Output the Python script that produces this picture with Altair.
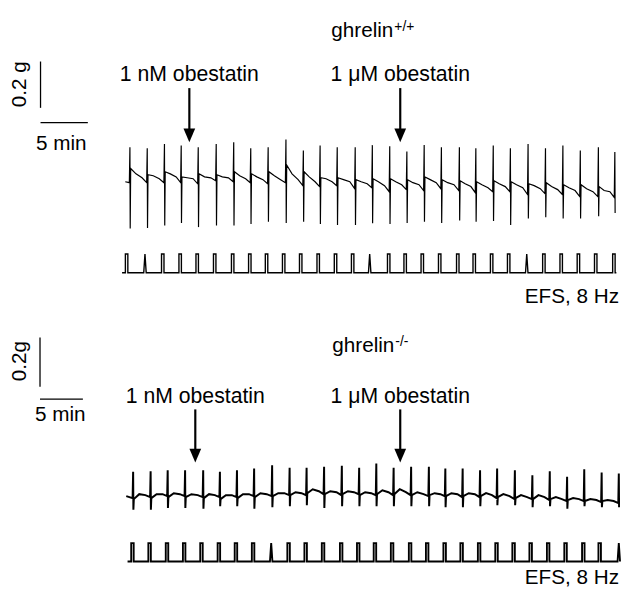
import altair as alt
import pandas as pd

FONT = "Liberation Sans"

# ---------------- ghrelin +/+ (top recording) ----------------
TOP_TITLE = "ghrelin"
TOP_SUP = "+/+"
TOP_SCALE_LABEL = "0.2 g"
# spike times (min) and tension (mg, relative to start baseline)
TOP_SPIKE_T = [0.49, 2.32, 4.14, 5.91, 7.71, 9.61, 11.46, 13.26, 15.10, 16.98,
               18.82, 20.59, 22.40, 24.30, 26.11, 27.95, 29.76, 31.59, 33.41, 35.31,
               37.05, 38.89, 40.70, 42.57, 44.41, 46.25, 48.09, 50.00, 51.74]
TOP_PEAK = [149, 145, 163, 156, 149, 163, 170, 145, 149, 182,
            135, 156, 149, 149, 158, 153, 131, 159, 149, 149,
            145, 156, 145, 163, 145, 156, 135, 149, 128]
TOP_TROUGH = [-202, -200, -189, -178, -196, -189, -189, -182, -173, -178,
              -173, -182, -187, -187, -179, -182, -178, -173, -178, -167,
              -173, -170, -187, -159, -153, -159, -159, -149, -135]
TOP_POST = [57, 30, 43, 21, 34, 30, 43, 34, 43, 72, 43, 17, 17, 9, 13, 13, 9, 21, 9, 4,
            0, 4, 0, -9, -4, -13, -13, -21]
TOP_MID1 = [34, 26, 34, 17, 21, 21, 26, 21, 26, 34, 21, 13, 9, 0, 0, 0, -4, 9, -4, -9,
            -13, -9, -13, -17, -21, -26, -30, -38]
TOP_MID2 = [17, 13, 21, 13, 17, 17, 13, 9, 9, 9, 0, 0, 0, -9, -17, -13, -13, -4, -13, -21,
            -26, -21, -26, -30, -34, -38, -43, -43]
TOP_PRE = [-4, -4, -4, -4, -9, 4, 0, -4, -9, -4, -17, -21, -17, -30, -26, -43, -34, -38,
           -30, -38, -47, -43, -43, -55, -51, -55, -64, -64, -68]
TOP_STIM_T = [0.14, 2.08, 3.96, 5.80, 7.60, 9.45, 11.35, 13.16, 14.93, 16.74,
              18.54, 20.39, 22.22, 24.03, 25.83, 27.84, 29.58, 31.39, 33.23, 35.14,
              36.88, 38.72, 40.52, 42.43, 44.24, 46.07, 47.89, 49.72, 51.64]
TOP_STIM_TRI = [1, 14, 23]
TOP_DRUG_T = [6.77, 29.06]
DRUG_LABELS = ["1 nM obestatin", "1 \u03bcM obestatin"]

# ---------------- ghrelin -/- (bottom recording) ----------------
BOT_TITLE = "ghrelin"
BOT_SUP = "-/-"
BOT_SCALE_LABEL = "0.2g"
BOT_SPIKE_T = [0.80, 2.84, 4.83, 6.86, 8.97, 10.92, 12.91, 14.91, 17.01, 19.05,
               21.03, 23.07, 25.14, 27.16, 29.16, 31.18, 33.22, 35.29, 37.21, 39.23,
               41.26, 43.25, 45.32, 47.36, 49.39, 51.41, 53.41, 55.44, 57.44]
BOT_PEAK = [99, 101, 105, 105, 105, 99, 105, 112, 125, 115,
            115, 119, 123, 115, 132, 115, 119, 119, 112, 112,
            105, 112, 105, 85, 101, 79, 109, 96, 92]
BOT_TROUGH = [-55, -55, -48, -48, -51, -41, -41, -51, -45, -41,
              -37, -48, -41, -41, -41, -41, -41, -41, -45, -45,
              -41, -37, -37, -45, -41, -51, -41, -45, -45]
BOT_POST = [-12, -8, -4, -4, -8, -12, -8, -4, 0, 4, 12, 8, 8, 4, 8, 8, 4, 4, 0, 0,
            0, -4, -8, -12, -12, -16, -20, -20]
BOT_MID1 = [8, 8, 12, 8, 8, 4, 8, 12, 12, 16, 28, 20, 20, 16, 24, 28, 16, 12, 12, 12,
            12, 8, 4, 4, -4, -8, -12, -16]
BOT_MID2 = [4, 8, 8, 4, 4, 4, 8, 8, 12, 12, 20, 16, 16, 12, 16, 16, 8, 8, 8, 8,
            4, 0, -4, -4, -12, -12, -16, -20]
BOT_PRE = [-8, -4, 0, 0, -4, -4, -4, 0, 0, 4, 4, 8, 4, 8, 4, 4, 4, 0, 0, -4, -4,
           -8, -12, -12, -16, -20, -20, -24, -28]
BOT_STIM_T = [0.72, 2.72, 4.75, 6.75, 8.77, 10.80, 12.79, 14.79, 16.90, 18.93,
              20.92, 22.95, 25.06, 27.05, 29.00, 31.00, 33.10, 35.09, 37.13, 39.11,
              41.15, 43.18, 45.17, 47.16, 49.20, 51.23, 53.30, 55.21, 57.44]
BOT_STIM_TRI = [8, 28]
BOT_DRUG_T = [8.05, 31.95]

EFS_LABEL = "EFS, 8 Hz"
TIME_BAR_MIN = 5
FORCE_BAR_MG = 200
TIME_BAR_LABEL = "5 min"

ARROW_PATH = "M -0.85 -1 L 0.85 -1 L 0 1 Z"


def trace_df(spike_t, peak, trough, post, mid1, mid2, pre):
    rows = [(0.0, 0)]
    n = len(spike_t)
    for i in range(n):
        t = spike_t[i]
        rows.append((t - 0.06, pre[i]))
        rows.append((t, peak[i]))
        rows.append((t + 0.03, trough[i]))
        if i < n - 1:
            dt = spike_t[i + 1] - t
            rows.append((t + 0.08, post[i]))
            rows.append((t + 0.35 * dt, mid1[i]))
            rows.append((t + 0.7 * dt, mid2[i]))
    return pd.DataFrame({"t": [r[0] for r in rows], "mg": [r[1] for r in rows],
                         "k": list(range(len(rows)))})


def stim_df(stim_t, tri, w, t0, t1):
    rows = [(t0, 0)]
    for i, t in enumerate(stim_t):
        if i in tri:
            rows += [(t - w / 2, 0), (t, 1), (t + w / 2, 0)]
        else:
            rows += [(t - w / 2, 0), (t - w / 2, 1), (t + w / 2, 1), (t + w / 2, 0)]
    if t1 > rows[-1][0]:
        rows.append((t1, 0))
    return pd.DataFrame({"t": [r[0] for r in rows], "v": [r[1] for r in rows],
                         "k": list(range(len(rows)))})


def panel(c):
    xs = alt.Scale(domain=c["xdom"], nice=False, zero=False)
    ys = alt.Scale(domain=c["ydom"], nice=False, zero=False)
    ss = alt.Scale(domain=c["sdom"], nice=False, zero=False)
    X = lambda f: alt.X(f, scale=xs, axis=None)
    Y = lambda f: alt.Y(f, scale=ys, axis=None)

    trace = alt.Chart(c["trace"]).mark_line(color="black", strokeWidth=c["tw"]).encode(
        x=X("t:Q"), y=Y("mg:Q"), order="k:Q")
    stim = alt.Chart(c["stim"]).mark_line(color="black", strokeWidth=c["sw"]).encode(
        x=X("t:Q"), y=alt.Y("v:Q", scale=ss, axis=None), order="k:Q")

    bx, by = c["bar_anchor"]
    vbar = alt.Chart(pd.DataFrame({"t": [bx], "a": [by], "b": [by - FORCE_BAR_MG]})).mark_rule(
        color="black", strokeWidth=1.3).encode(x=X("t:Q"), y=Y("a:Q"), y2="b:Q")
    hx, hy = c["hbar_anchor"]
    hbar = alt.Chart(pd.DataFrame({"a": [hx], "b": [hx + TIME_BAR_MIN], "m": [hy]})).mark_rule(
        color="black", strokeWidth=1.3).encode(x=X("a:Q"), x2="b:Q", y=Y("m:Q"))

    drugs = pd.DataFrame({"t": c["drug_t"], "label": DRUG_LABELS})
    shafts = alt.Chart(drugs).mark_rule(color="black", strokeWidth=2.2).encode(
        x=X("t:Q"), y=alt.value(c["shaft"][0]), y2=alt.value(c["shaft"][1]))
    heads = alt.Chart(drugs).mark_point(shape=ARROW_PATH, filled=True, color="black",
                                        opacity=1, size=c["head_size"], strokeWidth=0).encode(
        x=X("t:Q"), y=alt.value(c["head_y"]))
    dlabels = alt.Chart(drugs).mark_text(font=FONT, fontSize=21.5, align="center",
                                         baseline="alphabetic", color="black").encode(
        x=X("t:Q"), y=alt.value(c["label_y"]), text="label:N")

    def txt(s, x, y, size=21, align="left", angle=0, baseline="alphabetic"):
        return alt.Chart(pd.DataFrame({"s": [s]})).mark_text(
            font=FONT, fontSize=size, align=align, angle=angle, baseline=baseline,
            color="black").encode(x=alt.value(x), y=alt.value(y), text="s:N")

    texts = [
        txt(c["title"], c["title_xy"][0], c["title_xy"][1]),
        txt(c["sup"], c["sup_xy"][0], c["sup_xy"][1], size=14),
        txt(c["scale_label"], c["sl_xy"][0], c["sl_xy"][1], align="center", angle=270,
            baseline="middle"),
        txt(TIME_BAR_LABEL, c["tl_xy"][0], c["tl_xy"][1], align="center"),
        txt(EFS_LABEL, c["efs_xy"][0], c["efs_xy"][1], align="right"),
    ]
    return alt.layer(trace, stim, vbar, hbar, shafts, heads, dlabels, *texts).resolve_scale(
        y="independent").properties(width=620, height=c["h"])


top_cfg = dict(
    trace=trace_df(TOP_SPIKE_T, TOP_PEAK, TOP_TROUGH, TOP_POST, TOP_MID1, TOP_MID2, TOP_PRE),
    stim=stim_df(TOP_STIM_T, TOP_STIM_TRI, 0.26, -0.34, 51.9),
    xdom=[-118 / 9.6, (620 - 118) / 9.6], ydom=[-(298 - 172) * 4.2553, 172 * 4.2553],
    sdom=[-(298 - 264.3) / 19, 264.3 / 19], h=298, tw=1.2, sw=1.4,
    bar_anchor=(-8.958, 519), hbar_anchor=(-8.958, 255),
    drug_t=TOP_DRUG_T, shaft=(77, 121), head_y=125, head_size=196, label_y=70,
    title=TOP_TITLE, sup=TOP_SUP, title_xy=(327, 25), sup_xy=(391, 19),
    scale_label=TOP_SCALE_LABEL, sl_xy=(11, 73), tl_xy=(53, 140), efs_xy=(619, 295),
)
bot_cfg = dict(
    trace=trace_df(BOT_SPIKE_T, BOT_PEAK, BOT_TROUGH, BOT_POST, BOT_MID1, BOT_MID2, BOT_PRE),
    stim=stim_df(BOT_STIM_T, BOT_STIM_TRI, 0.29, 0.15, 57.5),
    xdom=[-119 / 8.7, (620 - 119) / 8.7], ydom=[-(283 - 192) * 4, 192 * 4],
    sdom=[-(283 - 258.3) / 18.6, 258.3 / 18.6], h=283, tw=2.0, sw=1.9,
    bar_anchor=(-10.06, 644), hbar_anchor=(-10.06, 394),
    drug_t=BOT_DRUG_T, shaft=(104, 146), head_y=151, head_size=196, label_y=97,
    title=BOT_TITLE, sup=BOT_SUP, title_xy=(328, 46), sup_xy=(392, 40),
    scale_label=BOT_SCALE_LABEL, sl_xy=(11, 55), tl_xy=(52, 116), efs_xy=(619, 281),
)

chart = alt.vconcat(panel(top_cfg), panel(bot_cfg), spacing=0).properties(
    padding=0).configure_view(stroke=None)

chart.save("out.html", embed_options={"renderer": "svg", "actions": False})
